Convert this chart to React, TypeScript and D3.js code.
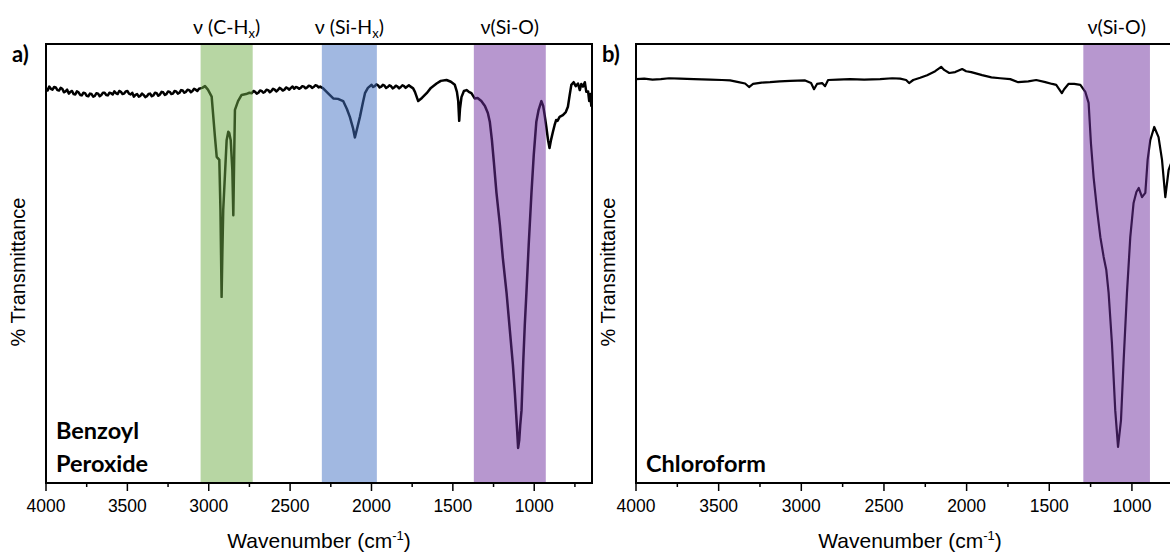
import React from "react";
import * as d3 from "d3";

const W = 1170;
const H = 552;

// wavenumber ticks (cm-1)
const majorTicks = [4000, 3500, 3000, 2500, 2000, 1500, 1000];
const minorTicks = [3750, 3250, 2750, 2250, 1750, 1250, 750];

// [wavenumber, % transmittance] (benzoyl peroxide)
const spectrumA: [number, number][] = [
  [4000, 89.9], [3990, 89.4], [3980, 90.3], [3970, 89.8], [3960, 89.6], [3950, 90.2],
  [3940, 90.1], [3930, 89.5], [3920, 89.4], [3910, 90.0], [3900, 89.8], [3890, 89.0],
  [3880, 89.2], [3870, 89.6], [3860, 88.7], [3850, 89.1], [3840, 89.3], [3830, 88.6],
  [3820, 88.5], [3810, 89.2], [3800, 89.0], [3790, 88.4], [3780, 88.3], [3770, 88.9],
  [3760, 88.8], [3750, 88.2], [3740, 88.1], [3730, 88.7], [3720, 88.6], [3710, 88.0],
  [3700, 88.2], [3690, 88.8], [3680, 88.7], [3670, 88.1], [3660, 88.4], [3650, 88.9],
  [3640, 88.9], [3630, 88.4], [3620, 88.3], [3610, 88.9], [3600, 88.8], [3590, 88.5],
  [3580, 89.2], [3570, 88.8], [3560, 88.6], [3550, 89.3], [3540, 89.1], [3530, 88.6],
  [3520, 88.7], [3510, 89.2], [3500, 89.3], [3490, 88.7], [3480, 88.5], [3470, 88.9],
  [3460, 88.0], [3450, 88.4], [3440, 88.6], [3430, 88.0], [3420, 88.2], [3410, 88.7],
  [3400, 88.4], [3390, 87.9], [3380, 88.1], [3370, 88.6], [3360, 88.7], [3350, 88.1],
  [3340, 88.3], [3330, 88.9], [3320, 88.8], [3310, 88.2], [3300, 88.5], [3290, 89.1],
  [3280, 89.0], [3270, 88.4], [3260, 88.6], [3250, 89.2], [3240, 89.1], [3230, 88.6],
  [3220, 88.7], [3210, 89.3], [3200, 89.2], [3190, 88.7], [3180, 88.9], [3170, 89.5],
  [3160, 89.4], [3150, 88.9], [3140, 89.1], [3130, 89.6], [3120, 89.5], [3110, 89.0],
  [3100, 89.3], [3090, 89.8], [3080, 89.6], [3070, 89.3], [3060, 89.8],
  [3040, 90.0], [3023, 90.4], [3005, 89.6], [2982, 88.0], [2962, 78.9], [2951, 74.3],
  [2935, 73.6], [2928, 62.2], [2921, 42.4], [2916, 53.1], [2911, 62.2], [2890, 78.1],
  [2880, 80.0], [2874, 79.7], [2865, 78.1], [2855, 71.3], [2849, 61.0], [2843, 75.9],
  [2839, 85.0], [2820, 87.0], [2798, 88.4], [2771, 88.6], [2750, 88.9], [2736, 88.8],
  [2725, 89.3], [2715, 89.1], [2705, 88.7], [2695, 88.9], [2685, 89.4], [2675, 89.3],
  [2665, 88.9], [2655, 89.1], [2645, 89.6], [2635, 89.5], [2625, 89.0], [2615, 89.3],
  [2605, 89.8], [2595, 89.6], [2585, 89.2], [2575, 89.5], [2565, 90.0], [2555, 89.8],
  [2545, 89.4], [2535, 89.6], [2525, 90.1], [2515, 89.9], [2505, 89.6], [2495, 90.0],
  [2485, 90.3], [2475, 89.8], [2465, 90.2], [2455, 90.1], [2445, 89.8], [2435, 90.0],
  [2425, 90.4], [2415, 90.3], [2405, 89.9], [2395, 90.1], [2385, 90.5], [2375, 90.4],
  [2365, 90.0], [2355, 90.2], [2345, 90.6], [2335, 90.5], [2325, 90.1], [2315, 90.3],
  [2297, 89.9], [2268, 88.8], [2235, 87.6],
  [2206, 87.5], [2174, 87.0], [2151, 85.2], [2133, 83.4], [2114, 80.9], [2102, 78.7],
  [2086, 81.1], [2071, 83.4], [2053, 86.6], [2040, 88.8], [2022, 90.0], [1999, 90.7],
  [1990, 90.2], [1980, 90.4], [1970, 90.8], [1960, 90.6], [1950, 90.1], [1940, 90.3],
  [1930, 90.7], [1920, 90.5], [1910, 90.0], [1900, 90.2], [1890, 90.6], [1880, 90.4],
  [1870, 89.9], [1860, 90.1], [1850, 90.5], [1840, 90.3], [1830, 89.9], [1820, 90.2],
  [1810, 90.6], [1800, 90.4], [1790, 90.0], [1780, 90.3], [1770, 90.6], [1764, 90.4],
  [1744, 89.9], [1733, 89.1], [1713, 87.0], [1690, 87.7], [1661, 88.8], [1635, 90.0],
  [1600, 91.0], [1574, 91.6], [1539, 91.8], [1512, 91.4], [1488, 90.7], [1475, 89.1],
  [1467, 87.0], [1461, 82.5], [1456, 85.3], [1447, 87.9], [1432, 89.3], [1416, 89.5],
  [1402, 89.1], [1386, 88.8], [1366, 87.6], [1348, 87.7], [1325, 87.0], [1303, 85.9],
  [1285, 84.3], [1273, 82.3], [1260, 78.1], [1248, 73.1], [1232, 66.1], [1211, 58.8],
  [1193, 51.3], [1170, 43.3], [1150, 34.9], [1131, 26.9], [1119, 20.5], [1107, 13.2],
  [1099, 8.0], [1092, 9.8], [1086, 13.2], [1078, 16.6], [1067, 28.0], [1058, 36.0],
  [1048, 43.3], [1034, 54.2], [1017, 66.1], [1003, 74.7], [987, 82.3], [973, 85.0],
  [956, 87.0], [945, 85.9], [936, 83.8], [926, 81.2], [915, 78.1], [906, 76.3],
  [897, 78.1], [885, 80.0], [875, 81.5], [865, 82.7], [857, 82.5], [844, 83.4],
  [824, 83.8], [806, 84.5], [793, 85.7], [782, 88.4], [772, 90.7], [758, 91.3],
  [745, 90.4], [731, 91.0], [720, 89.5], [711, 90.9], [700, 90.3], [689, 91.3],
  [680, 89.1], [669, 89.2], [662, 87.0], [655, 88.6], [649, 85.7],
];

// [wavenumber, % transmittance] (chloroform)
const spectrumB: [number, number][] = [
  [4000, 92.0], [3950, 92.1], [3900, 91.9], [3850, 92.0], [3800, 92.2], [3734, 92.1],
  [3650, 92.0], [3552, 91.9], [3480, 91.8], [3431, 91.7], [3380, 91.3], [3340, 91.0],
  [3316, 90.2], [3292, 90.9], [3240, 91.2], [3189, 91.3], [3130, 91.5], [3068, 91.6],
  [2977, 91.7], [2941, 91.1], [2923, 89.7], [2905, 90.9], [2874, 91.1], [2856, 90.4],
  [2838, 91.8], [2780, 91.9], [2705, 92.0], [2620, 91.9], [2523, 92.0], [2450, 92.2],
  [2402, 92.1], [2366, 91.8], [2348, 91.1], [2323, 91.8], [2281, 92.3], [2239, 92.9],
  [2190, 93.8], [2154, 94.8], [2136, 94.1], [2105, 93.4], [2069, 93.6], [2027, 94.3],
  [2003, 93.8], [1972, 93.6], [1906, 92.9], [1850, 92.4], [1797, 92.2], [1736, 92.0],
  [1688, 91.3], [1627, 91.5], [1579, 91.8], [1524, 91.3], [1482, 90.9], [1458, 90.7],
  [1424, 88.8], [1410, 89.7], [1384, 90.9], [1349, 90.9], [1312, 90.7], [1282, 89.1],
  [1262, 86.6], [1248, 77.4], [1232, 69.7], [1211, 62.2], [1191, 56.0], [1171, 51.5],
  [1155, 48.5], [1141, 43.3], [1121, 31.9], [1101, 16.6], [1084, 8.2], [1066, 14.4],
  [1050, 28.0], [1030, 43.3], [1010, 56.0], [990, 63.8], [973, 66.3], [959, 67.2],
  [939, 65.1], [919, 66.1], [905, 73.6], [889, 78.1], [865, 81.1], [839, 78.8],
  [818, 73.6], [798, 65.1], [778, 71.3], [756, 73.6], [730, 75.9], [700, 76.5],
  [685, 75.9],
];

// highlighted regions, [from, to] in cm-1
const bandsA: [number, number][] = [[3050, 2730], [2305, 1967], [1371, 929]];
const bandsB: [number, number][] = [[1294, 891]];

// band labels: [text, subscript, tail]
const bandLabelsA: [string, string, string][] = [
  ["ν (C-H", "x", ")"],
  ["ν (Si-H", "x", ")"],
  ["ν(Si-O)", "", ""],
];
const bandLabelsB: [string, string, string][] = [["ν(Si-O)", "", ""]];

const bandColorsA = ["#70AD47", "#4472C4", "#7030A0"];
const bandColorsB = ["#7030A0"];

const TOP = 44;
const BOTTOM = 483;
const axisFont = "'Liberation Sans', Arial, sans-serif";
const labelFont = "Lato, 'Open Sans', sans-serif";

type PanelProps = {
  id: string;
  left: number;
  right: number;
  xEnd: number;
  data: [number, number][];
  bands: [number, number][];
  bandLabels: [string, string, string][];
  colors: string[];
  tag: string;
  name: string[];
  lineWidth: number;
};

const Panel = ({ id, left, right, xEnd, data, bands, bandLabels, colors, tag, name, lineWidth }: PanelProps) => {
  const x = d3.scaleLinear().domain([4000, xEnd]).range([left, right]);
  const y = d3.scaleLinear().domain([0, 100]).range([BOTTOM, TOP]);
  const line = d3
    .line<[number, number]>()
    .x((d) => x(d[0]))
    .y((d) => y(d[1]));

  return (
    <g>
      <defs>
        <clipPath id={`clip-${id}`}>
          <rect x={left} y={TOP} width={right - left} height={BOTTOM - TOP} />
        </clipPath>
      </defs>

      <g clipPath={`url(#clip-${id})`}>
        <path d={line(data) ?? ""} fill="none" stroke="#000" strokeWidth={lineWidth} strokeLinejoin="round" />
        {/* bands sit on top of the trace, half transparent */}
        {bands.map((b, i) => (
          <rect
            key={i}
            x={x(b[0])}
            y={TOP}
            width={x(b[1]) - x(b[0])}
            height={BOTTOM - TOP}
            fill={colors[i]}
            fillOpacity={0.5}
          />
        ))}
      </g>

      {bands.map((b, i) => (
        <text
          key={i}
          x={(x(b[0]) + x(b[1])) / 2}
          y={34}
          textAnchor="middle"
          fontFamily={labelFont}
          fontSize={19.5}
          fill="#000"
        >
          {bandLabels[i][0]}
          {bandLabels[i][1] && (
            <tspan fontSize={13} dy={4}>
              {bandLabels[i][1]}
            </tspan>
          )}
          {bandLabels[i][2] && <tspan dy={-4}>{bandLabels[i][2]}</tspan>}
        </text>
      ))}

      <rect x={left} y={TOP} width={right - left} height={BOTTOM - TOP} fill="none" stroke="#000" strokeWidth={2} />

      {majorTicks.map((t) => (
        <g key={t}>
          <line x1={x(t)} x2={x(t)} y1={BOTTOM} y2={BOTTOM + 8} stroke="#000" strokeWidth={1.5} />
          <text x={x(t)} y={512} textAnchor="middle" fontFamily={axisFont} fontSize={17.5} fill="#000">
            {t}
          </text>
        </g>
      ))}
      {minorTicks
        .filter((t) => t > xEnd)
        .map((t) => (
          <line key={t} x1={x(t)} x2={x(t)} y1={BOTTOM} y2={BOTTOM + 4} stroke="#000" strokeWidth={1.5} />
        ))}

      <text
        x={(left + right) / 2}
        y={548}
        textAnchor="middle"
        fontFamily={axisFont}
        fontSize={21}
        fill="#000"
      >
        Wavenumber (cm
        <tspan fontSize={13} dy={-8}>
          -1
        </tspan>
        <tspan dy={8}>)</tspan>
      </text>

      <text
        transform={`translate(${left - 21},272) rotate(-90)`}
        textAnchor="middle"
        fontFamily={axisFont}
        fontSize={20}
        fill="#000"
      >
        % Transmittance
      </text>

      <text x={left - 34} y={62} fontFamily={labelFont} fontWeight={700} fontSize={22} fill="#000">
        {tag}
      </text>

      {name.map((n, i) => (
        <text
          key={n}
          x={left + 10}
          y={472 - (name.length - 1 - i) * 33}
          fontFamily={labelFont}
          fontWeight={700}
          fontSize={23.5}
          fill="#000"
        >
          {n}
        </text>
      ))}
    </g>
  );
};

const App = () => {
  return (
    <svg
      width={W}
      height={H}
      viewBox={`0 0 ${W} ${H}`}
      style={{ position: "absolute", left: 0, top: 0, background: "#fff" }}
    >
      <rect width={W} height={H} fill="#fff" />
      <Panel
        id="a"
        left={46}
        right={592}
        xEnd={645}
        data={spectrumA}
        bands={bandsA}
        bandLabels={bandLabelsA}
        colors={bandColorsA}
        tag="a)"
        name={["Benzoyl", "Peroxide"]}
        lineWidth={2.5}
      />
      <Panel
        id="b"
        left={636}
        right={1184}
        xEnd={685}
        data={spectrumB}
        bands={bandsB}
        bandLabels={bandLabelsB}
        colors={bandColorsB}
        tag="b)"
        name={["Chloroform"]}
        lineWidth={2.2}
      />
    </svg>
  );
};

export default App;
